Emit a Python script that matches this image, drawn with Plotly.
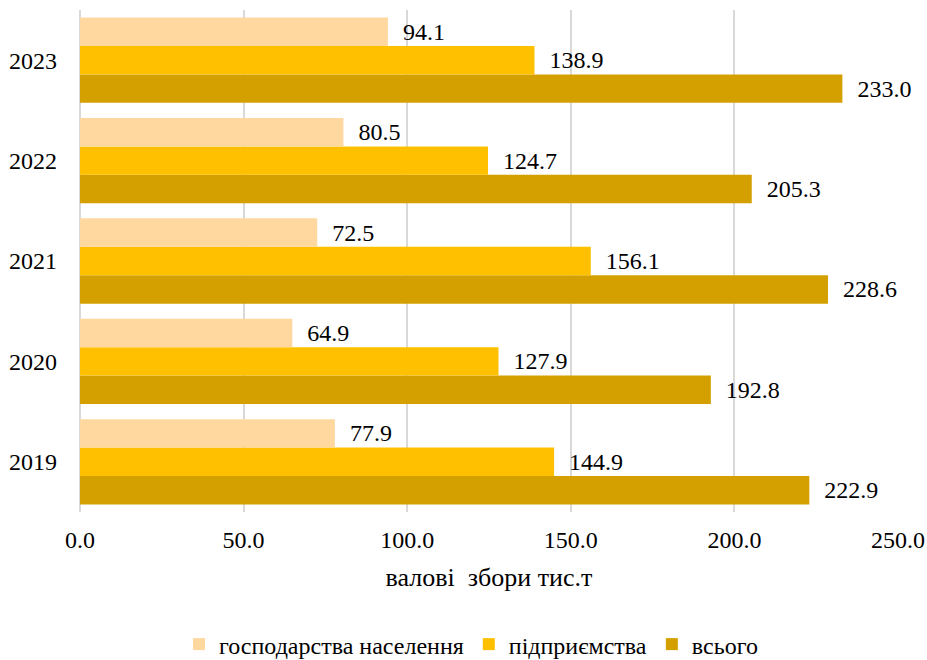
import plotly.graph_objects as go

years = ["2019", "2020", "2021", "2022", "2023"]
households = [77.9, 64.9, 72.5, 80.5, 94.1]
enterprises = [144.9, 127.9, 156.1, 124.7, 138.9]
total = [222.9, 192.8, 228.6, 205.3, 233.0]

names = ["господарства населення", "підприємства", "всього"]
colors = ["#FFD89F", "#FFC000", "#D4A000"]
series = [households, enterprises, total]

FONT = "Liberation Serif"

fig = go.Figure()
for name, vals, col in reversed(list(zip(names, series, colors))):
    fig.add_trace(go.Bar(
        y=years, x=vals, name=name, orientation="h",
        marker=dict(color=col, line=dict(width=0)),
        texttemplate="  %{x:.1f}", textposition="outside",
        textfont=dict(family=FONT, size=24, color="#000000"),
        cliponaxis=False,
    ))

fig.update_layout(
    width=927, height=660,
    margin=dict(l=80, r=29, t=10, b=148, autoexpand=False),
    barmode="group", bargap=0.15, bargroupgap=0,
    plot_bgcolor="white", paper_bgcolor="white",
    font=dict(family=FONT, size=24, color="#000000"),
    showlegend=True,
    legend=dict(orientation="h", traceorder="reversed",
                x=0.478, xanchor="center", y=-0.264, yanchor="middle",
                font=dict(family=FONT, size=24), itemwidth=30,
                tracegroupgap=0),
    xaxis=dict(range=[0, 250], dtick=50, tickformat=".1f", automargin=False,
               showgrid=True, gridcolor="#D9D9D9", gridwidth=1.5,
               zeroline=True, zerolinecolor="#D9D9D9", zerolinewidth=1.5,
               ticks="", tickfont=dict(family=FONT, size=24),
               ticklabelstandoff=11,
               title=dict(text="валові&nbsp; збори тис.т", font=dict(family=FONT, size=26), standoff=15)),
    yaxis=dict(type="category", categoryorder="array", categoryarray=years,
               automargin=False,
               showgrid=False, ticks="", ticklen=0,
               tickfont=dict(family=FONT, size=24), ticklabelstandoff=22),
)

fig.write_html("out.html")
